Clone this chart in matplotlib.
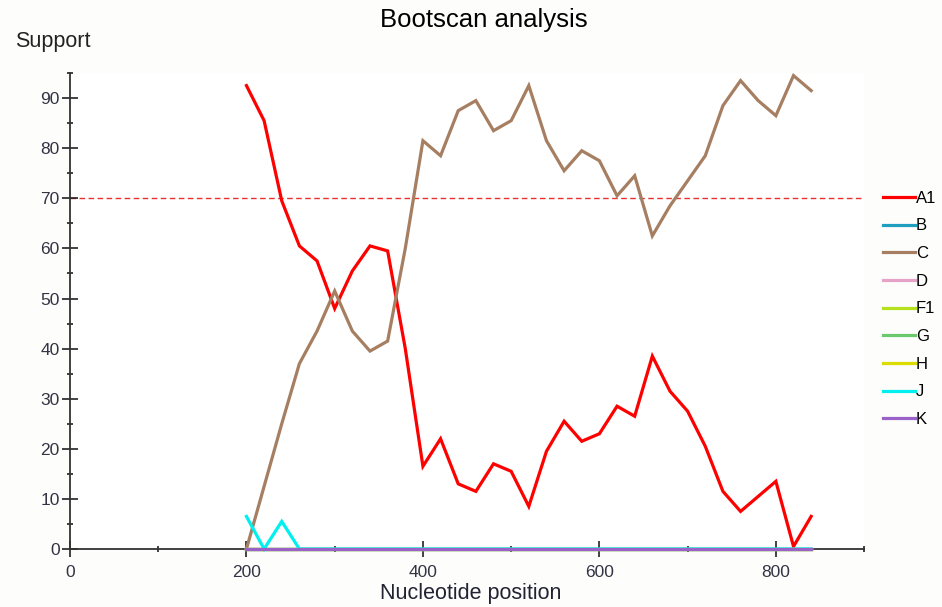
import matplotlib
matplotlib.use('Agg')
import matplotlib.pyplot as plt
from matplotlib.ticker import MultipleLocator

plt.rcParams['font.family'] = ['Liberation Sans', 'DejaVu Sans']

# Data
positions = list(range(200, 841, 20))
a1 = [92.5, 85.5, 69.5, 60.5, 57.5, 48, 55.5, 60.5, 59.5, 40, 16.5, 22, 13, 11.5, 17, 15.5, 8.5,
      19.5, 25.5, 21.5, 23, 28.5, 26.5, 38.5, 31.5, 27.5, 20.5, 11.5, 7.5, 10.5, 13.5, 0.5, 6.5]
c = [0, 12.5, 25, 37, 43.5, 51.5, 43.5, 39.5, 41.5, 60, 81.5, 78.5, 87.5, 89.5, 83.5, 85.5, 92.5,
     81.5, 75.5, 79.5, 77.5, 70.5, 74.5, 62.5, 68.5, 73.5, 78.5, 88.5, 93.5, 89.5, 86.5, 94.5, 91.5]
j = [6.5, 0, 5.5, 0] + [0] * 29
zeros = [0] * 33

labels = ['A1', 'B', 'C', 'D', 'F1', 'G', 'H', 'J', 'K']
colors = ['#ff0000', '#1f9fc0', '#a67f62', '#e6a3c8', '#b4e01e', '#6cc86c', '#dcdc00', '#00f0f0', '#9a62c8']
series = [a1, zeros, c, zeros, zeros, zeros, zeros, j, zeros]
threshold = 70

fig = plt.figure(figsize=(9.42, 6.07), dpi=100)
fig.patch.set_facecolor('#fdfdfb')
ax = fig.add_axes([0.0743, 0.0956, 0.843, 0.784])
ax.set_facecolor('white')

for lab, col, vals in zip(labels, colors, series):
    ax.plot(positions, vals, color=col, lw=2.3, label=lab, solid_joinstyle='miter',
            clip_on=False, zorder=3)

ax.axhline(threshold, color='#e83030', lw=1.0, ls=(0, (4, 2.5)), zorder=1)

ax.set_xlim(0, 900)
ax.set_ylim(0, 95)
ax.xaxis.set_major_locator(MultipleLocator(200))
ax.xaxis.set_minor_locator(MultipleLocator(100))
ax.yaxis.set_major_locator(MultipleLocator(10))
ax.yaxis.set_minor_locator(MultipleLocator(5))
ax.set_xticks([0, 200, 400, 600, 800])

for s in ['top', 'right']:
    ax.spines[s].set_visible(False)
for s in ['left', 'bottom']:
    ax.spines[s].set_color('#333333')
    ax.spines[s].set_linewidth(1.3)
    ax.spines[s].set_zorder(2.5)

ax.tick_params(which='major', direction='inout', length=11, width=1.2, colors='#222222',
               labelsize=12.5, labelcolor='#333344')
ax.tick_params(axis='x', which='major', pad=6)
ax.tick_params(axis='y', which='major', pad=2)
ax.tick_params(which='minor', direction='inout', length=5, width=1.2, colors='#222222')

fig.text(0.514, 0.967, 'Bootscan analysis', ha='center', va='center', fontsize=18.5)
fig.text(0.016, 0.931, 'Support', ha='left', va='center', fontsize=15.5, color='#222222')
fig.text(0.50, 0.023, 'Nucleotide position', ha='center', va='center', fontsize=15.5, color='#222233')

leg = ax.legend(loc='center left', bbox_to_anchor=(0.929, 0.491), bbox_transform=fig.transFigure,
                frameon=False, fontsize=12, handlelength=1.9, handletextpad=0.05,
                labelspacing=0.76, borderpad=0)

fig.savefig('out.png', dpi=100, facecolor=fig.get_facecolor())
